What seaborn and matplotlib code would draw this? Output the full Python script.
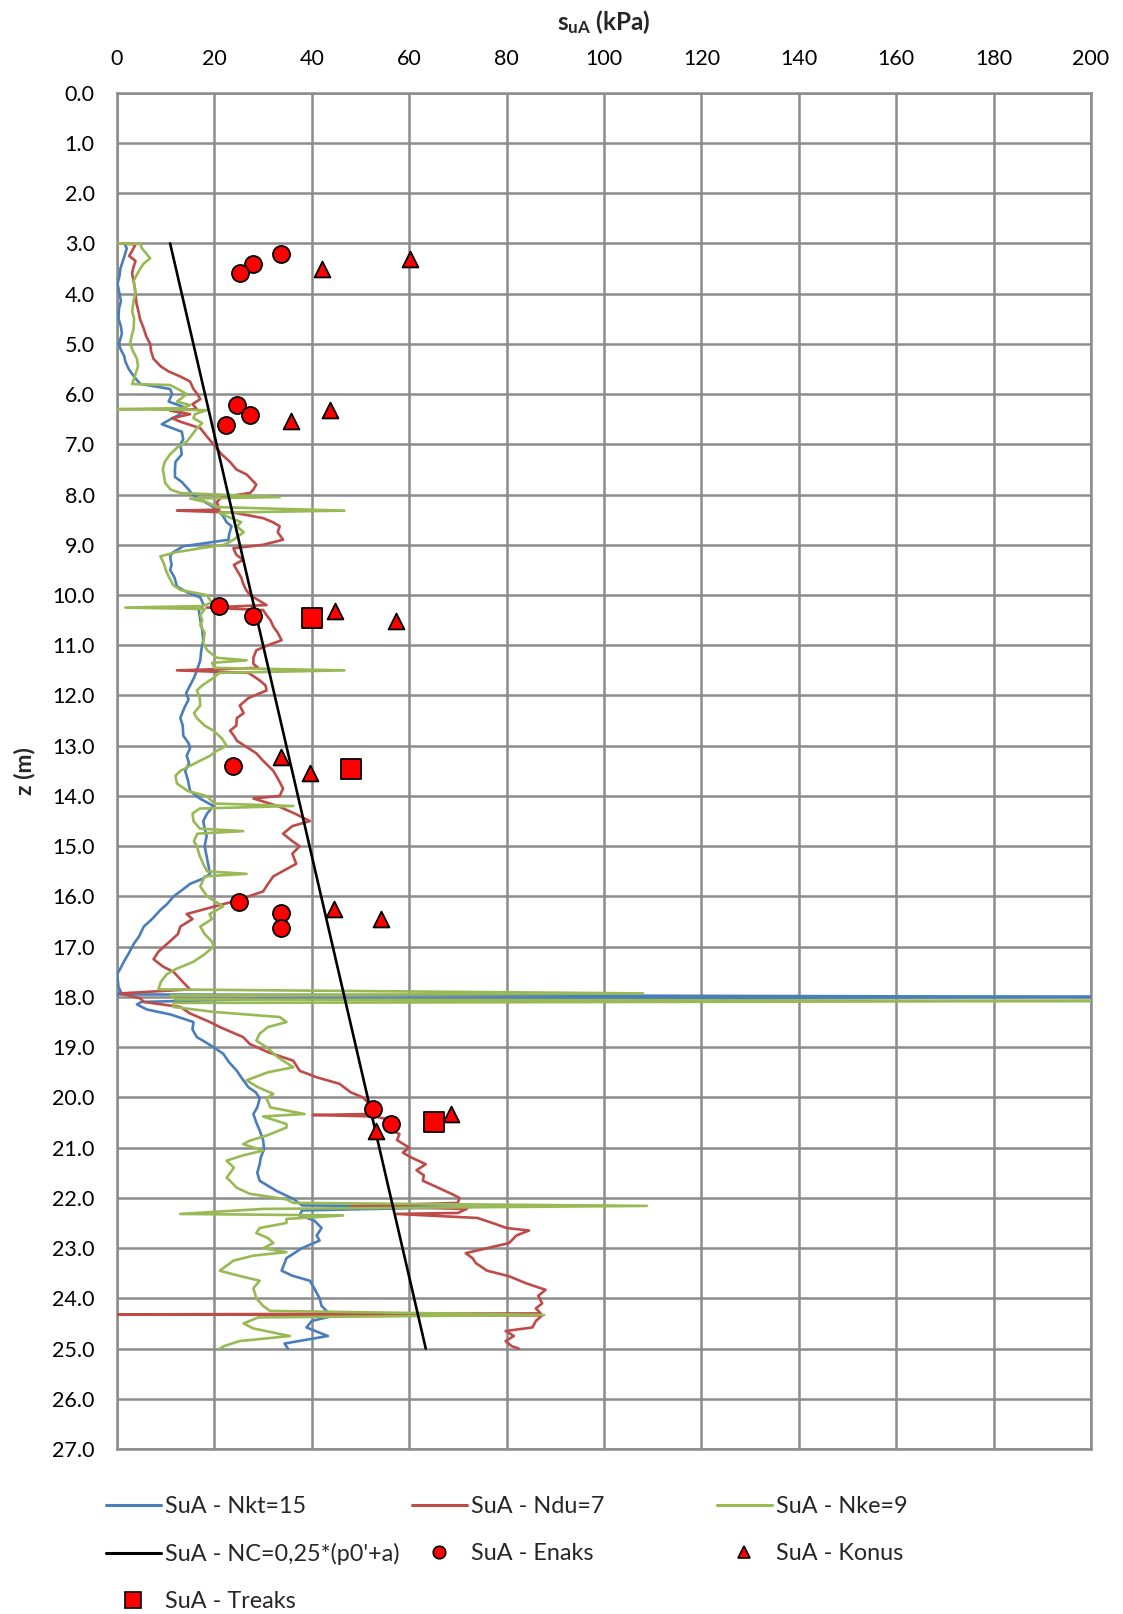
import numpy as np
import pandas as pd
import matplotlib
matplotlib.use("Agg")
import matplotlib.pyplot as plt
from matplotlib.lines import Line2D
import seaborn as sns

# --- CPT-derived undrained shear strength profiles (z in m, su in kPa) ---
nkt_z = [3.0, 3.1, 3.2, 3.35, 3.5, 3.65, 3.8, 4.0, 4.15, 4.3, 4.5, 4.65, 4.8, 5.0, 5.1, 5.25, 5.35, 5.5,
         5.6, 5.7, 5.8, 5.85, 5.9, 6.0, 6.15, 6.25, 6.3, 6.4, 6.5, 6.6, 6.75, 6.9, 7.0, 7.2, 7.35, 7.5,
         7.65, 7.75, 7.9, 8.0, 8.1, 8.2, 8.3, 8.43, 8.55, 8.63, 8.8, 8.9, 9.03, 9.15, 9.23, 9.4, 9.5,
         9.65, 9.83, 9.95, 10.05, 10.2, 10.3, 10.5, 10.7, 10.9, 11.1, 11.3, 11.5, 11.65, 11.8, 11.95,
         12.08, 12.25, 12.45, 12.6, 12.8, 12.95, 13.05, 13.2, 13.35, 13.5, 13.7, 13.9, 14.05, 14.2,
         14.35, 14.5, 14.65, 14.8, 15.0, 15.2, 15.4, 15.55, 15.65, 15.75, 15.9, 16.0, 16.15, 16.27,
         16.45, 16.6, 16.8, 16.95, 17.1, 17.3, 17.45, 17.55, 17.7, 17.8, 17.9, 17.95, 18.0, 18.04,
         18.1, 18.15, 18.25, 18.35, 18.5, 18.65, 18.8, 18.95, 19.13, 19.3, 19.47, 19.6, 19.8, 19.9,
         20.02, 20.2, 20.33, 20.5, 20.66, 20.85, 21.03, 21.2, 21.33, 21.5, 21.66, 21.86, 22.02, 22.15,
         22.18, 22.25, 22.35, 22.45, 22.6, 22.75, 22.85, 23.0, 23.2, 23.45, 23.55, 23.65, 23.8, 24.0,
         24.15, 24.25, 24.35, 24.45, 24.58, 24.75, 24.9, 25.0]
nkt_su = [1.5, 2.0, 1.7, 1.2, 0.7, 0.5, 0.1, 0.5, 0.8, 0.4, 0.3, 0.8, 1.0, 0.4, 0.7, 1.5, 1.7, 2.4,
          3.1, 3.9, 4.8, 8.0, 10.9, 11.3, 10.6, 13.5, 12.3, 13.0, 11.0, 9.2, 13.3, 13.6, 13.0, 13.3, 12.0, 11.9,
          11.9, 13.3, 14.7, 15.5, 17.1, 19.0, 20.5, 21.8, 22.5, 23.5, 23.0, 22.9, 13.6, 11.5, 10.9, 11.2, 10.9,
          11.8, 12.3, 14.5, 17.1, 17.8, 16.8, 17.1, 17.5, 17.7, 17.3, 17.1, 16.4, 15.8, 15.0, 14.2,
          14.7, 13.8, 13.0, 13.5, 13.6, 14.7, 15.0, 14.3, 14.8, 14.0, 14.6, 15.0, 17.0, 19.8,
          18.5, 17.7, 18.0, 18.4, 18.0, 18.4, 18.8, 19.1, 17.5, 15.0, 13.0, 11.6, 10.3, 8.9,
          7.2, 5.5, 4.5, 3.4, 2.6, 1.4, 0.6, 0.0, 0.2, 0.3, 0.8, 0.0, 210.0, 30.0,
          5.0, 4.1, 6.1, 11.0, 15.7, 15.5, 16.4, 19.0, 21.8, 23.0, 24.6, 25.5, 27.0, 28.5,
          29.3, 28.8, 28.0, 28.6, 29.3, 30.0, 30.2, 29.5, 29.3, 28.8, 29.3, 32.7, 36.2, 38.0,
          73.0, 38.0, 37.5, 40.5, 42.0, 41.0, 41.6, 38.0, 34.8, 33.8, 36.0, 39.6, 40.5, 41.6,
          42.0, 43.0, 44.3, 40.0, 38.9, 43.3, 34.4, 35.1]

ndu_z = [3.0, 3.02, 3.15, 3.25, 3.35, 3.5, 3.6, 3.8, 4.0, 4.2, 4.35, 4.5, 4.7, 4.85, 5.0, 5.15, 5.3,
         5.45, 5.55, 5.65, 5.75, 5.9, 6.0, 6.1, 6.2, 6.3, 6.33, 6.4, 6.48, 6.55, 6.68, 6.85, 7.0, 7.2,
         7.35, 7.5, 7.6, 7.8, 7.9, 7.97, 8.05, 8.15, 8.3, 8.32, 8.36, 8.47, 8.55, 8.63, 8.75, 8.9, 9.0,
         9.07, 9.2, 9.3, 9.4, 9.5, 9.65, 9.77, 9.9, 10.0, 10.1, 10.2, 10.25, 10.3, 10.4, 10.5, 10.63,
         10.75, 10.9, 11.0, 11.1, 11.25, 11.37, 11.45, 11.5, 11.55, 11.7, 11.8, 11.9, 12.05, 12.2,
         12.35, 12.45, 12.6, 12.7, 12.8, 12.9, 13.05, 13.15, 13.3, 13.5, 13.65, 13.85, 14.0, 14.05,
         14.2, 14.35, 14.5, 14.6, 14.75, 14.9, 15.0, 15.15, 15.35, 15.5, 15.6, 15.75, 15.9, 16.0,
         16.1, 16.2, 16.35, 16.45, 16.6, 16.75, 16.95, 17.1, 17.25, 17.4, 17.5, 17.7, 17.85, 17.93,
         18.03, 18.1, 18.2, 18.33, 18.5, 18.6, 18.8, 18.94, 19.1, 19.27, 19.47, 19.6, 19.73, 19.9,
         20.0, 20.15, 20.33, 20.35, 20.38, 20.46, 20.6, 20.73, 20.85, 21.0, 21.1, 21.2, 21.33, 21.45,
         21.55, 21.66, 21.8, 21.93, 22.0, 22.1, 22.17, 22.22, 22.3, 22.32, 22.4, 22.5, 22.6, 22.65,
         22.75, 22.9, 23.0, 23.1, 23.2, 23.3, 23.45, 23.56, 23.7, 23.83, 23.95, 24.1, 24.2, 24.3,
         24.32, 24.34, 24.45, 24.58, 24.65, 24.75, 24.85, 24.95, 25.0]
ndu_su = [0.5, 3.8, 3.1, 2.5, 3.8, 3.3, 3.1, 3.5, 3.8, 4.0, 4.4, 4.7, 5.5, 6.0, 6.8, 7.0, 7.5,
          9.0, 10.6, 13.0, 15.0, 15.7, 16.5, 17.1, 15.5, 16.4, 10.9, 15.0, 11.3, 13.0, 17.1, 18.5, 19.8, 21.5,
          23.2, 24.5, 26.6, 28.6, 28.0, 27.3, 21.5, 20.5, 21.0, 12.3, 24.0, 30.0, 32.0, 33.4, 33.0, 34.1, 30.0,
          23.9, 24.5, 25.9, 24.0, 24.6, 25.5, 25.9, 26.5, 27.3, 29.0, 30.7, 18.4, 30.0, 30.7, 31.5, 32.1,
          33.0, 33.8, 31.0, 28.6, 28.0, 28.0, 29.0, 12.3, 27.0, 29.3, 30.5, 30.7, 27.0, 25.2,
          26.0, 24.6, 24.5, 23.2, 24.0, 24.6, 27.0, 28.6, 30.0, 32.1, 33.0, 34.1, 33.4, 28.0,
          33.0, 36.5, 39.6, 36.0, 34.1, 36.0, 37.5, 36.0, 36.8, 34.0, 32.1, 31.0, 30.0, 27.0,
          23.9, 20.0, 14.3, 15.5, 13.0, 12.5, 10.2, 8.5, 7.5, 9.5, 11.6, 13.5, 15.0, 0.7,
          4.8, 5.5, 13.0, 15.0, 19.1, 21.1, 25.9, 27.3, 31.0, 36.2, 37.5, 41.0, 45.7, 48.0,
          50.5, 52.0, 52.5, 40.2, 53.0, 56.6, 55.0, 58.0, 57.5, 60.0, 58.7, 60.5, 63.4, 61.5,
          63.0, 62.8, 66.0, 68.9, 70.3, 70.0, 48.1, 71.8, 70.0, 57.4, 74.0, 77.1, 80.0, 84.6,
          82.0, 80.5, 76.0, 71.6, 73.0, 73.7, 76.0, 80.5, 84.0, 88.0, 86.5, 87.3, 86.0, 87.0,
          0.0, 87.3, 86.0, 85.3, 79.8, 81.5, 79.8, 81.0, 82.5]

nke_z = [3.0, 3.01, 3.1, 3.2, 3.3, 3.4, 3.5, 3.6, 3.75, 3.9, 4.0, 4.15, 4.35, 4.5, 4.7, 4.85, 5.0,
         5.15, 5.3, 5.45, 5.6, 5.75, 5.8, 5.82, 5.9, 6.0, 6.1, 6.15, 6.22, 6.28, 6.3, 6.32, 6.4, 6.48,
         6.58, 6.68, 6.8, 6.95, 7.05, 7.2, 7.35, 7.5, 7.6, 7.77, 7.9, 7.97, 8.05, 8.08, 8.15, 8.25,
         8.32, 8.36, 8.43, 8.55, 8.63, 8.75, 8.9, 9.0, 9.07, 9.15, 9.23, 9.37, 9.5, 9.63, 9.8, 9.9,
         10.0, 10.15, 10.22, 10.25, 10.28, 10.4, 10.5, 10.6, 10.75, 10.95, 11.1, 11.25, 11.3, 11.35,
         11.45, 11.5, 11.55, 11.65, 11.8, 11.9, 12.05, 12.2, 12.35, 12.45, 12.6, 12.7, 12.85, 13.0,
         13.1, 13.2, 13.35, 13.5, 13.6, 13.75, 13.9, 14.0, 14.15, 14.2, 14.25, 14.35, 14.5, 14.65,
         14.7, 14.75, 14.9, 15.0, 15.2, 15.35, 15.5, 15.55, 15.6, 15.8, 16.0, 16.2, 16.35, 16.45,
         16.6, 16.75, 16.9, 17.0, 17.15, 17.3, 17.45, 17.55, 17.7, 17.85, 17.93, 17.97, 18.05, 18.08,
         18.12, 18.2, 18.3, 18.4, 18.5, 18.6, 18.73, 18.87, 19.0, 19.2, 19.4, 19.5, 19.66, 19.8,
         19.93, 20.02, 20.2, 20.33, 20.38, 20.53, 20.6, 20.75, 20.86, 20.93, 21.06, 21.15, 21.26,
         21.4, 21.6, 21.66, 21.8, 21.92, 22.03, 22.1, 22.16, 22.22, 22.32, 22.35, 22.42, 22.5, 22.6,
         22.7, 22.8, 22.9, 23.0, 23.08, 23.15, 23.25, 23.35, 23.45, 23.55, 23.65, 23.8, 24.0, 24.15,
         24.25, 24.33, 24.38, 24.5, 24.6, 24.75, 24.85, 24.95, 25.0]
nke_su = [0.0, 4.8, 5.1, 6.0, 6.8, 5.5, 4.8, 4.2, 3.4, 3.7, 3.8, 3.4, 3.1, 3.5, 3.4, 3.0, 2.7,
          3.3, 4.1, 4.3, 3.8, 3.3, 3.1, 10.9, 12.5, 14.3, 13.0, 12.3, 15.0, 13.5, 0.0, 18.4, 16.0, 15.7,
          17.5, 16.4, 15.5, 14.3, 12.5, 10.9, 9.8, 9.4, 9.6, 9.9, 11.0, 13.0, 33.4, 15.0, 18.4, 20.5,
          46.7, 21.0, 22.5, 25.5, 24.6, 26.0, 23.9, 22.0, 17.1, 12.0, 8.9, 9.6, 10.0, 10.6, 11.5, 13.0,
          18.4, 19.5, 17.5, 1.7, 18.0, 17.1, 17.5, 17.1, 18.0, 17.7, 18.5, 20.5, 26.6, 19.5,
          20.0, 46.7, 21.0, 19.8, 17.5, 16.4, 17.0, 17.1, 15.8, 16.4, 18.0, 19.8, 21.5, 22.5,
          20.5, 19.1, 16.0, 13.0, 12.0, 12.3, 14.5, 18.4, 20.0, 36.2, 17.0, 15.5, 15.7, 17.0,
          25.9, 16.5, 15.8, 16.4, 17.0, 17.7, 18.5, 26.6, 18.0, 17.1, 18.5, 21.8, 19.0, 19.5,
          17.1, 18.0, 19.5, 19.8, 18.0, 15.7, 12.0, 10.2, 9.0, 8.5, 108.0, 11.0, 12.0, 210.0,
          11.6, 11.6, 20.0, 33.4, 34.8, 31.0, 29.3, 28.6, 30.7, 33.0, 36.2, 31.0, 26.6, 29.0,
          32.1, 30.7, 31.5, 38.5, 30.0, 34.8, 34.8, 31.0, 27.3, 25.9, 30.0, 26.0, 22.5,
          24.0, 22.5, 23.2, 24.6, 27.3, 34.8, 36.2, 108.8, 30.0, 13.0, 46.4, 34.8, 34.8, 29.3,
          28.6, 31.0, 32.1, 30.0, 34.8, 28.0, 23.9, 22.5, 21.1, 25.0, 29.3, 28.0, 28.6, 30.0,
          31.4, 87.7, 29.0, 26.0, 28.0, 35.5, 25.2, 22.0, 21.1]

# normally consolidated reference line
nc_z = [3.0, 25.0]
nc_su = [10.9, 63.4]

# laboratory / field tests
enaks_z = [3.21, 3.41, 3.6, 6.21, 6.41, 6.61, 10.22, 10.42, 13.41, 16.12, 16.33, 16.63, 20.23, 20.53]
enaks_su = [33.6, 28.0, 25.3, 24.6, 27.3, 22.4, 21.0, 28.0, 23.8, 25.1, 33.6, 33.6, 52.6, 56.2]
konus_z = [3.32, 3.52, 6.32, 6.53, 10.32, 10.52, 13.23, 13.54, 16.25, 16.45, 20.33, 20.66]
konus_su = [60.2, 42.1, 43.7, 35.7, 44.8, 57.2, 33.6, 39.6, 44.6, 54.2, 68.5, 53.2]
treaks_z = [10.46, 13.46, 20.48]
treaks_su = [40.0, 48.0, 65.1]

labels = ["SuA - Nkt=15", "SuA - Ndu=7", "SuA - Nke=9", "SuA - NC=0,25*(p0'+a)",
          "SuA - Enaks", "SuA - Konus", "SuA - Treaks"]
c_blue, c_red, c_green = "#4A7EBB", "#BE4B48", "#98B954"
c_grid = "#8C8C8C"

sns.set_style("white")
plt.rcParams["font.family"] = ["Lato", "DejaVu Sans"]
plt.rcParams["mathtext.fontset"] = "custom"
plt.rcParams["mathtext.rm"] = "Lato"
plt.rcParams["mathtext.bf"] = "Lato:bold"
FS = 15.5
FS_LEG = 16.8

fig = plt.figure(figsize=(11.23, 16.14), dpi=100)
ax = fig.add_axes([0.1042, 0.1022, 0.8673, 0.8404])

profiles = [(nkt_z, nkt_su, c_blue), (ndu_z, ndu_su, c_red), (nke_z, nke_su, c_green)]
for zz, ss, col in profiles:
    df = pd.DataFrame({"su": ss, "z": zz})
    sns.lineplot(data=df, x="su", y="z", sort=False, estimator=None, color=col,
                 lw=1.9, ax=ax, legend=False, zorder=3)

df_nc = pd.DataFrame({"su": nc_su, "z": nc_z})
sns.lineplot(data=df_nc, x="su", y="z", sort=False, estimator=None, color="black",
             lw=1.9, ax=ax, legend=False, zorder=4)

pts = [(enaks_su, enaks_z, "o", 150), (konus_su, konus_z, "^", 130), (treaks_su, treaks_z, "s", 190)]
for ss, zz, m, s in pts:
    df = pd.DataFrame({"su": ss, "z": zz})
    sns.scatterplot(data=df, x="su", y="z", marker=m, s=s, color="#FF0000",
                    edgecolor="black", linewidth=1.3, ax=ax, legend=False, zorder=5)

ax.set_xlim(0, 200)
ax.set_ylim(27, 0)
ax.set_xticks(np.arange(0, 201, 20))
ax.set_yticks(np.arange(0, 28, 1))
ax.yaxis.set_major_formatter(matplotlib.ticker.FormatStrFormatter("%.1f"))
ax.xaxis.tick_top()
ax.xaxis.set_label_position("top")
ax.tick_params(axis="both", length=0, labelsize=FS, colors="black")
ax.tick_params(axis="x", pad=17)
ax.tick_params(axis="y", pad=16)
ax.grid(True, color=c_grid, lw=1.8)
ax.set_axisbelow(True)
for sp in ax.spines.values():
    sp.set_color(c_grid)
    sp.set_linewidth(1.8)

ax.set_xlabel(r"$\mathbf{s_{uA}}$ (kPa)", fontsize=FS + 2, fontweight="bold", labelpad=14)
ax.set_ylabel("z (m)", fontsize=FS + 1, fontweight="bold", labelpad=12)

# legend: three separate columns to mimic the evenly spaced layout
h = {
    0: Line2D([], [], color=c_blue, lw=2.2),
    1: Line2D([], [], color=c_red, lw=2.2),
    2: Line2D([], [], color=c_green, lw=2.2),
    3: Line2D([], [], color="black", lw=2.2),
    4: Line2D([], [], ls="none", marker="o", ms=9, mfc="#FF0000", mec="black", mew=1.2),
    5: Line2D([], [], ls="none", marker="^", ms=8, mfc="#FF0000", mec="black", mew=1.2),
    6: Line2D([], [], ls="none", marker="s", ms=11, mfc="#FF0000", mec="black", mew=1.2),
}
cols = [([0, 3, 6], 106), ([1, 4], 412), ([2, 5], 717)]
for idx, xpx in cols:
    leg = fig.legend([h[i] for i in idx], [labels[i] for i in idx], loc="upper left",
                     bbox_to_anchor=(xpx / 1123, 1 - 1496 / 1614), frameon=False,
                     fontsize=FS_LEG, handlelength=2.35, handletextpad=0.18, labelspacing=1.11,
                     borderpad=0, borderaxespad=0)

fig.savefig("out.png", dpi=100)
